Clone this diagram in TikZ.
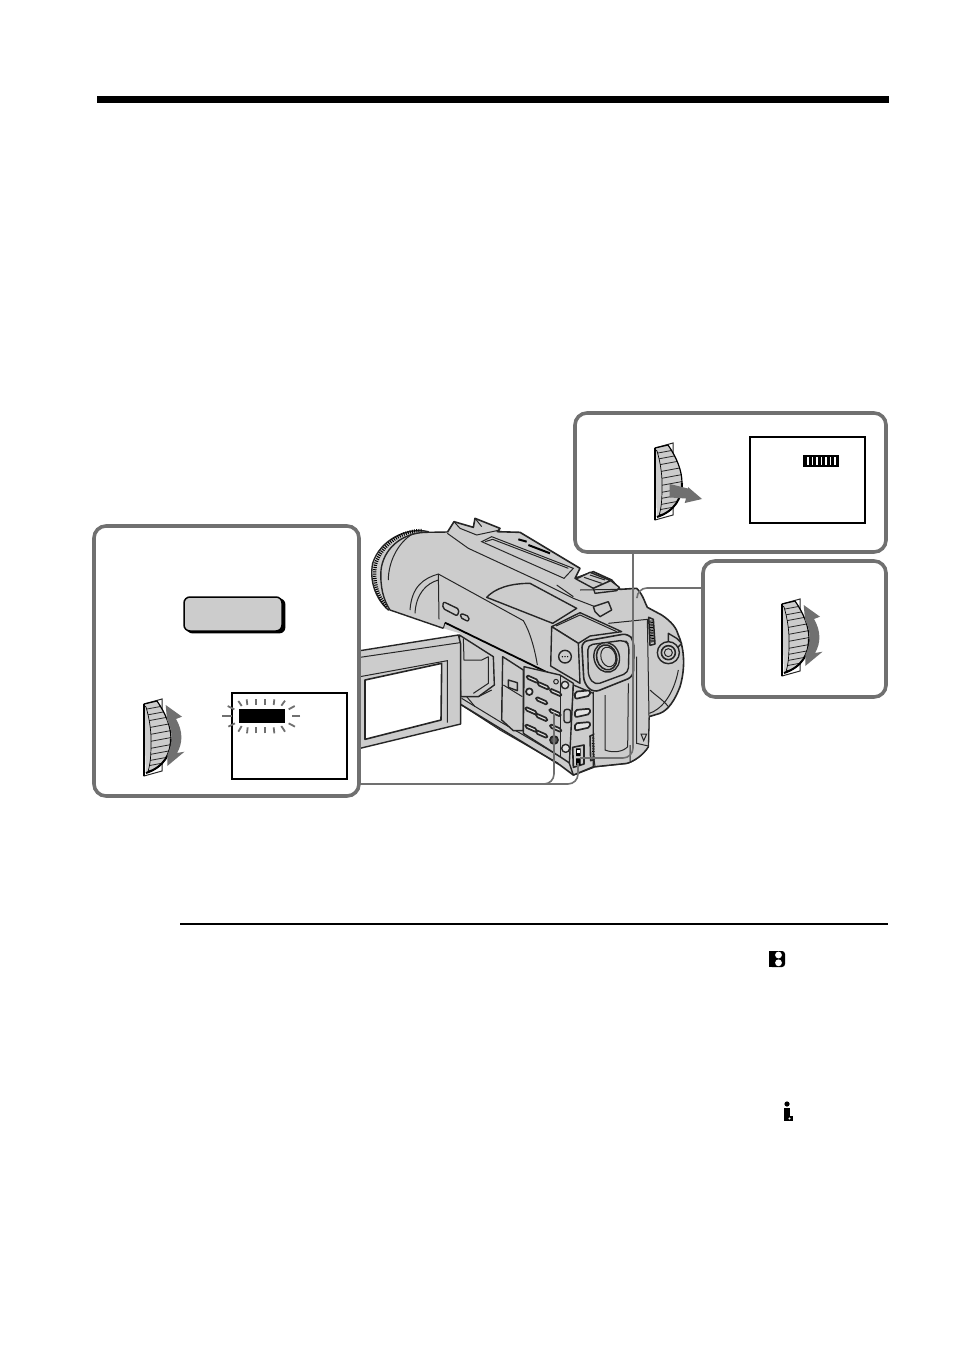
\documentclass[tikz,border=0pt]{standalone}
\usepackage{xcolor}
\usetikzlibrary{shapes.geometric, arrows, positioning, calc}
\definecolor{camgray}{RGB}{204, 204, 204}
\definecolor{linkgray}{RGB}{112, 112, 112}
\definecolor{deepgray}{RGB}{90, 90, 90}
\tikzstyle{panel} = [rectangle, rounded corners=6pt, draw=linkgray, line width=1.8pt, fill=white, inner sep=0pt, outer sep=0pt, anchor=north west]
\tikzstyle{screen} = [rectangle, draw=black, fill=white, inner sep=0pt, outer sep=0pt, anchor=north west]
\tikzstyle{linkline} = [draw=linkgray, line width=.8pt, rounded corners=5pt]
\tikzstyle{camline} = [draw=black!85, line width=.7pt, fill=camgray, line join=round]
\tikzstyle{thinline} = [draw=black!85, line width=.5pt]
\tikzstyle{ray} = [draw=linkgray, line width=.9pt]
\newcommand{\softkey}[2]{\draw[camline, fill=camgray!55, line width=.85pt, rounded corners=.8pt] (#1-17,#2-12) -- (#1+17,#2+3) -- (#1+17,#2+13) -- (#1-17,#2-2) -- cycle;}
\newcommand{\jogdial}[2]{
\begin{scope}[shift={(#1,#2)}]
    \draw[thinline, fill=white] (0,5) -- (18,0) -- (18,72) -- (0,77) -- cycle;
    \fill[camgray] (0,5) -- (13,2) .. controls (22,15) and (27,28) .. (27,40) .. controls (27,55) and (20,68) .. (2,74) -- cycle;
    \begin{scope}
        \clip (0,5) -- (13,2) .. controls (22,15) and (27,28) .. (27,40) .. controls (27,55) and (20,68) .. (2,74) -- cycle;
        \foreach \ribpos in {8,14,20,27,34,41,48,54,60,65,70}
            \draw[thinline, line width=.4pt] (3,\ribpos+2) -- (30,\ribpos-3);
        \path[fill=camgray, draw=black, line width=.35pt] (-2,5) -- (2,8) .. controls (5,18) and (7,30) .. (7,40) .. controls (7,55) and (7,64) .. (3,76) -- (-2,76) -- cycle;
    \end{scope}
    \draw[black, line width=.6pt] (0,5) -- (13,2) .. controls (22,15) and (27,28) .. (27,40);
    \draw[black, line width=1pt] (27,40) .. controls (27,55) and (20,68) .. (2,74);
    \draw[black, line width=1.2pt] (0,5) -- (0,77);
\end{scope}}
\newcommand{\turnarrow}[2]{
\fill[linkgray, shift={(#1,#2)}] (21.7,6) -- (38,17.7) -- (32,20) .. controls (39,32) and (39,44) .. (33,54) -- (40.5,52.7) -- (23.3,67) -- (23.3,56) .. controls (29,44) and (29,32) .. (23,21) -- cycle;}
\begin{document}
\begin{tikzpicture}[x=.5pt, y=-.5pt]
\useasboundingbox (0,0) rectangle (954,1352);
\fill[white] (0,0) rectangle (954,1352);
\fill[black] (97,96) rectangle (889,103);
\fill[black] (180,923) rectangle (888,925);

% camera
\begin{scope}[shift={(360,500)}, x=.16667pt, y=-.16667pt]
    \draw[camline] (205,95) .. controls (140,80) and (60,120) .. (38,190) .. controls (28,240) and (45,295) .. (85,330) -- (200,250) -- cycle;
    \draw[black, line width=1.7pt, dash pattern=on .5pt off .6pt] (185,92) .. controls (130,90) and (65,130) .. (46,195) .. controls (38,240) and (52,290) .. (80,320);
    \fill[camgray] (195,97) .. controls (120,100) and (70,150) .. (63,210) .. controls (60,260) and (70,300) .. (90,330) -- (250,385) -- (300,300) -- (270,95) -- cycle;
    \draw[camline, fill=none] (265,96) -- (195,97) .. controls (120,100) and (70,150) .. (63,210) .. controls (60,260) and (70,300) .. (90,330) -- (250,385);
    \fill[camgray] (262,97) -- (282,65) -- (340,82) -- (345,55) -- (420,85) -- (412,95) -- (480,97) -- (660,205) -- (645,235) -- (700,215) -- (755,240) -- (780,268) -- (830,265) .. controls (850,285) and (855,310) .. (862,322) -- (905,345) .. controls (935,365) and (950,385) .. (955,405) .. controls (975,450) and (975,510) .. (960,560) .. controls (945,600) and (925,630) .. (900,640) -- (867,650) -- (865,740) .. controls (850,765) and (820,785) .. (800,790) -- (705,800) -- (640,825) -- (600,795) -- (300,612) -- (300,400) -- (250,385) -- (200,200) -- cycle;
    \draw[camline, fill=none, line width=.8pt] (262,97) -- (282,65) -- (340,82) -- (345,55) -- (420,85) -- (412,95) -- (480,97) -- (660,205) -- (645,235) -- (700,215) -- (755,240) -- (780,268) -- (830,265) .. controls (850,285) and (855,310) .. (862,322) -- (905,345) .. controls (935,365) and (950,385) .. (955,405) .. controls (975,450) and (975,510) .. (960,560) .. controls (945,600) and (925,630) .. (900,640) -- (867,650) -- (865,740) .. controls (850,765) and (820,785) .. (800,790) -- (705,800) -- (640,825) -- (600,795) -- (300,612);
    % top plate
    \draw[thinline] (262,100) -- (325,145) -- (530,240) -- (640,295) -- (705,320);
    \draw[thinline] (300,85) -- (350,105) -- (420,90);
    \draw[thinline] (282,65) -- (300,85) (345,55) -- (365,80);
    \draw[thinline] (365,125) -- (395,110) -- (640,205) -- (612,235) -- cycle;
    \draw[thinline] (375,125) -- (398,118) -- (625,205);
    \draw[black, line width=1pt] (475,118) -- (500,125) (505,135) -- (570,160);
    \draw[camline] (648,237) -- (690,217) -- (752,242) -- (700,265) -- cycle;
    \draw[camline] (700,265) -- (752,242) -- (778,262) -- (770,272) -- (705,280) -- cycle;
    \draw[thinline] (672,232) -- (725,250) (690,225) -- (735,240);
    \draw[camline] (700,320) -- (745,305) -- (755,330) -- (720,350) -- (705,335) -- cycle;
    \draw[thinline] (660,270) -- (780,268) (590,255) -- (640,290);
    % housing
    \draw[thinline] (150,330) .. controls (155,260) and (190,235) .. (235,222) -- (490,362) .. controls (510,395) and (525,450) .. (532,495);
    \draw[thinline] (165,340) .. controls (168,280) and (200,250) .. (235,240);
    \draw[thinline] (235,222) -- (237,358);
    \draw[thinline] (160,100) .. controls (110,130) and (85,190) .. (85,240);
    \draw[black, line width=.9pt] (255,368) -- (578,525);
    \draw[thinline] (250,385) -- (255,368);
    \draw[camline] (380,292) .. controls (405,265) and (450,250) .. (510,250) -- (650,325) -- (578,370) -- cycle;
    \draw[camline, rounded corners=1pt] (250,305) -- (298,328) -- (292,348) -- (248,325) -- cycle;
    \draw[camline, rounded corners=1pt] (303,340) -- (328,350) -- (325,365) -- (300,352) -- cycle;
    % hinge recess
    \draw[camline] (298,405) -- (400,470) -- (403,555) -- (355,590) -- (302,590) -- cycle;
    \draw[thinline] (310,415) -- (312,480) -- (365,480) -- (385,470) (385,470) -- (385,550) -- (340,580) (320,590) -- (345,620) (355,590) -- (395,570);
    \draw[thinline] (300,612) -- (420,690) -- (595,790);
    \draw[thinline] (305,595) -- (420,665) -- (490,705) -- (600,770);
    % door
    \draw[camline] (428,470) -- (490,510) -- (490,692) -- (460,692) -- (425,660) -- cycle;
    \draw[thinline] (430,555) -- (487,590) (425,600) -- (425,655);
    \draw[camline] (445,540) -- (472,548) -- (472,572) -- (445,562) -- cycle;
    % keys
    \draw[camline] (492,500) -- (600,525) -- (640,550) -- (630,790) -- (600,770) -- (490,700) -- cycle;
    \draw[thinline] (600,525) -- (600,770);
    \softkey{517}{537}\softkey{550}{557}\softkey{587}{577}\softkey{545}{602}
    \softkey{513}{632}\softkey{545}{652}\softkey{585}{637}\softkey{513}{684}
    \softkey{545}{702}\softkey{587}{684}
    \draw[camline, fill=camgray!55, line width=.85pt] (508,575) circle (10);
    \draw[camline, fill=deepgray, line width=.85pt] (582,720) circle (12);
    \draw[camline, fill=camgray!55] (615,555) circle (11) (617,745) circle (12);
    \draw[thinline] (588,545) circle (7);
    % right side keys
    \draw[camline] (640,555) -- (700,580) -- (700,800) -- (640,825) -- (628,790) -- cycle;
    \foreach \keypos in {585,640,680}
        \draw[camline, fill=camgray!55, line width=.85pt, rounded corners=1pt] (645,\keypos-10) -- (690,\keypos-14) -- (690,\keypos+2) -- (645,\keypos+12) -- cycle;
    \draw[camline, rounded corners=1.2pt] (612,628) -- (632,628) -- (632,668) -- (612,668) -- cycle;
    \draw[camline, line width=.8pt] (638,742) -- (672,735) -- (672,792) -- (640,802) -- cycle;
    \fill[black] (648,745) rectangle (662,768) (648,775) rectangle (662,795);
    \fill[white] (651,750) rectangle (659,760);
    \draw[camline, line width=.8pt] (690,708) -- (710,700) -- (712,775) -- (692,782) -- cycle;
    \draw[black, line width=1.6pt, dash pattern=on .4pt off .4pt] (700,710) -- (702,772);
    % grip column
    \fill[camgray] (700,575) -- (820,530) -- (820,380) -- (865,360) -- (867,650) -- (865,740) .. controls (850,765) and (820,785) .. (800,790) -- (705,800) -- cycle;
    \draw[thinline] (700,575) -- (700,800);
    \draw[thinline] (745,370) -- (862,358) -- (867,650) -- (865,740);
    \draw[camline, fill=none] (865,740) .. controls (850,765) and (820,785) .. (800,790) -- (705,800);
    \draw[thinline] (735,585) -- (735,750) .. controls (760,760) and (790,755) .. (803,740) -- (805,550);
    \draw[thinline] (830,470) -- (830,730) -- (865,738);
    \draw[thinline] (705,800) -- (700,760) (810,735) -- (810,785);
    \draw[thinline] (843,702) -- (860,702) -- (851,722) -- cycle;
    % viewfinder
    \draw[camline] (575,380) -- (660,338) -- (785,395) -- (690,408) -- (655,430) -- cycle;
    \draw[camline] (575,380) -- (655,430) -- (660,550) -- (572,498) -- cycle;
    \draw[thinline] (588,378) -- (660,345) -- (770,395);
    \draw[camline, fill=camgray] (615,470) circle (19);
    \fill[black] (607,470) circle (2.2) (615,470) circle (2.2) (623,470) circle (2.2);
    \draw[camline, rounded corners=3pt, line width=.8pt] (665,425) -- (805,400) -- (822,425) -- (820,530) -- (700,578) -- (672,550) -- cycle;
    \draw[camline, rounded corners=2.5pt] (683,435) -- (795,420) -- (807,435) -- (805,518) -- (705,555) -- (685,530) -- cycle;
    \draw[camline, rotate around={15:(740,472)}] (740,472) ellipse (38 and 45);
    \draw[camline, line width=.8pt, rotate around={15:(740,472)}] (740,472) ellipse (30 and 38);
    \draw[thinline, rotate around={15:(740,472)}] (745,472) ellipse (22 and 30);
    % rear
    \draw[camline, line width=.75pt] (866,352) -- (880,358) -- (885,432) -- (870,436) -- cycle;
    \draw[black, line width=1.8pt, dash pattern=on .4pt off .4pt] (873,362) -- (877,428);
    \draw[camline] (925,400) -- (950,415) -- (965,430) -- (950,445) -- (925,430) -- cycle;
    \draw[camline] (925,458) circle (33);
    \draw[camline, line width=.8pt] (925,458) circle (21);
    \draw[thinline] (925,458) circle (12);
    \draw[thinline] (868,640) .. controls (900,630) and (940,590) .. (955,510);
    \draw[thinline] (870,570) .. controls (885,585) and (910,600) .. (925,620);
    % lcd
    \draw[camline] (0,452) -- (295,405) -- (302,432) -- (302,672) -- (0,745);
    \draw[thinline] (0,472) -- (300,428);
    \draw[thinline] (0,530) -- (262,482) -- (262,668);
    \draw[camline, fill=white, line width=.8pt] (15,540) -- (245,490) -- (243,660) -- (15,718) -- cycle;
\end{scope}

% links
\coordinate (menujoin) at (359,784);
\coordinate (menubtn) at (554,713);
\coordinate (dialbtn) at (578,763);
\coordinate (checkjoin) at (633,552);
\coordinate (powerbtn) at (580,758);
\coordinate (turnjoin) at (703,588);
\coordinate (grip) at (637,597);
\draw[linkline] (menujoin) -| (menubtn);
\draw[linkline] (menujoin) -| (dialbtn);
\draw[linkline] (checkjoin) |- (powerbtn);
\draw[linkline] (turnjoin) -| (grip);

% panels
\node[panel, minimum width=132.5pt, minimum height=135pt] (menupanel) at (94,526) {};
\node[panel, minimum width=155.5pt, minimum height=69.5pt] (checkpanel) at (575,413) {};
\node[panel, minimum width=91.5pt, minimum height=68pt] (turnpanel) at (703,561) {};

\node[screen, line width=1pt, minimum width=57.5pt, minimum height=43pt] (gaugescreen) at (750,437) {};
\node[screen, line width=.75pt, minimum width=57.5pt, minimum height=43pt] (flashscreen) at (232,693) {};
\node[fill=black, inner sep=0pt, anchor=north west, minimum width=18pt, minimum height=6pt] (gaugebar) at (803,455) {};
\foreach \tickx in {808,812.5,817,821.5,826,830.5,835}
    \draw[white, line width=.55pt] (\tickx,457) -- (\tickx,465);
\node[fill=black, inner sep=0pt, anchor=north west, minimum width=23pt, minimum height=7pt] (flashbar) at (239,709) {};
\begin{scope}[shift={(90,520)}, x=.16667pt, y=-.16667pt]
    \foreach \ax/\ay/\bx/\by in {445/543/455/558, 470/538/472/555, 498/537/498/555, 525/537/525/555, 553/538/551/555, 585/542/574/557, 614/558/596/568, 630/587/607/587, 615/620/596/610, 585/635/574/618, 553/640/551/622, 525/640/525/622, 498/640/498/622, 471/640/473/622, 445/635/455/618, 415/620/435/610, 397/588/425/588, 413/558/433/568}
        \draw[ray] (\ax,\ay) -- (\bx,\by);
\end{scope}

\node[rectangle, rounded corners=3pt, fill=black, inner sep=0pt, anchor=north west, minimum width=49.5pt, minimum height=17.5pt] (keyshadow) at (186,598) {};
\node[rectangle, rounded corners=3pt, draw=black, line width=.75pt, fill=camgray, inner sep=0pt, outer sep=0pt, anchor=north west, minimum width=49pt, minimum height=17pt] (menukey) at (184,597) {};

\jogdial{655}{443}
\fill[linkgray, shift={(655,443)}] (14.7,41) -- (33,45.5) -- (33,44) -- (47,56) -- (29.7,60) -- (31,55.5) -- (14.7,54.5) -- cycle;
\jogdial{782}{599}
\turnarrow{782}{599}
\jogdial{144}{699}
\turnarrow{144}{699}

% page icons
\fill[black, rounded corners=1.5pt] (769,951) rectangle (785,967);
\fill[black] (769,951) rectangle (776,967);
\fill[white] (778.5,955) circle (1.7pt) (778.5,962.8) circle (1.7pt);
\fill[black] (787,1104) circle (1.3pt);
\fill[black] (784,1108) rectangle (790,1121);
\fill[black] (784,1116) rectangle (793,1121);
\fill[white] (789.5,1118.5) circle (.6pt);
\end{tikzpicture}
\end{document}
